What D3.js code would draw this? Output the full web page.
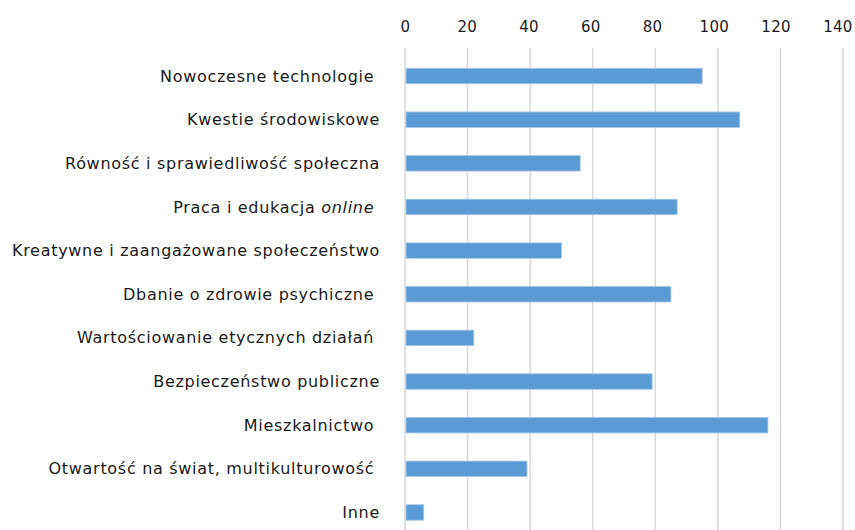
<!DOCTYPE html>
<html>
<head>
<meta charset="utf-8">
<script src="https://cdn.jsdelivr.net/npm/d3@7"></script>
<style>
  body { margin: 0; background: #fff; }
  text { font-family: "DejaVu Sans", sans-serif; fill: #1a1a1a; }
</style>
</head>
<body>
<div id="chart"></div>
<script>
// chart data
var categories = [
    "Nowoczesne technologie ",
    "Kwestie środowiskowe",
    "Równość i sprawiedliwość społeczna",
    "Praca i edukacja |online| ",
    "Kreatywne i zaangażowane społeczeństwo",
    "Dbanie o zdrowie psychiczne ",
    "Wartościowanie etycznych działań ",
    "Bezpieczeństwo publiczne",
    "Mieszkalnictwo ",
    "Otwartość na świat, multikulturowość ",
    "Inne"
];
var values = [95, 107, 56, 87, 50, 85, 22, 79, 116, 39, 6];
var xTicks = [0, 20, 40, 60, 80, 100, 120, 140];

var svgWidth = 855;
var svgHeight = 530;

var svg = d3.select("#chart")
    .append("svg")
    .attr("width", svgWidth)
    .attr("height", svgHeight);

// scales
var xScale = d3.scaleLinear().domain([0, 140]).range([405, 843]);
var yScale = d3.scaleBand()
    .domain(categories)
    .range([54.2, 534.3])
    .paddingInner(0.645)
    .paddingOuter(0.3225);

// vertical gridlines
svg.append("g")
    .selectAll("line")
    .data(xTicks)
    .enter()
    .append("line")
    .attr("x1", d => xScale(d))
    .attr("x2", d => xScale(d))
    .attr("y1", 48)
    .attr("y2", svgHeight)
    .attr("stroke", "#d9d9d9")
    .attr("stroke-width", 1.5);

// top axis labels
var topAxis = d3.axisTop(xScale).tickValues(xTicks).tickSize(0).tickPadding(0);
var axisG = svg.append("g")
    .attr("transform", "translate(0, 32)")
    .call(topAxis);
axisG.select(".domain").remove();
axisG.selectAll("text")
    .style("font-family", "\"DejaVu Sans\", sans-serif")
    .style("font-size", "15px")
    .style("letter-spacing", "0.3px")
    .attr("fill", "#1a1a1a")
    .attr("dx", (d, i) => -i * 0.8 + "px");

// bars
svg.append("g")
    .selectAll("rect")
    .data(values)
    .enter()
    .append("rect")
    .attr("x", xScale(0) + 1)
    .attr("y", (d, i) => yScale(categories[i]))
    .attr("width", d => xScale(d) - xScale(0) - 1)
    .attr("height", yScale.bandwidth())
    .attr("fill", "#5b9bd5")
    .attr("stroke", "#a9c8ea")
    .attr("stroke-width", 0.8);

// category labels (|...| marks italic part)
var labels = svg.append("g")
    .selectAll("text")
    .data(categories)
    .enter()
    .append("text")
    .attr("x", 380)
    .attr("y", d => yScale(d) + yScale.bandwidth() / 2)
    .attr("dy", "0.35em")
    .attr("text-anchor", "end")
    .style("font-size", "16px")
    .style("letter-spacing", "0.7px")
    .style("white-space", "pre");

labels.each(function(d) {
    var parts = d.split("|");
    var t = d3.select(this);
    parts.forEach(function(p, i) {
        t.append("tspan")
            .style("font-style", i % 2 === 1 ? "italic" : "normal")
            .text(p);
    });
});
</script>
</body>
</html>
